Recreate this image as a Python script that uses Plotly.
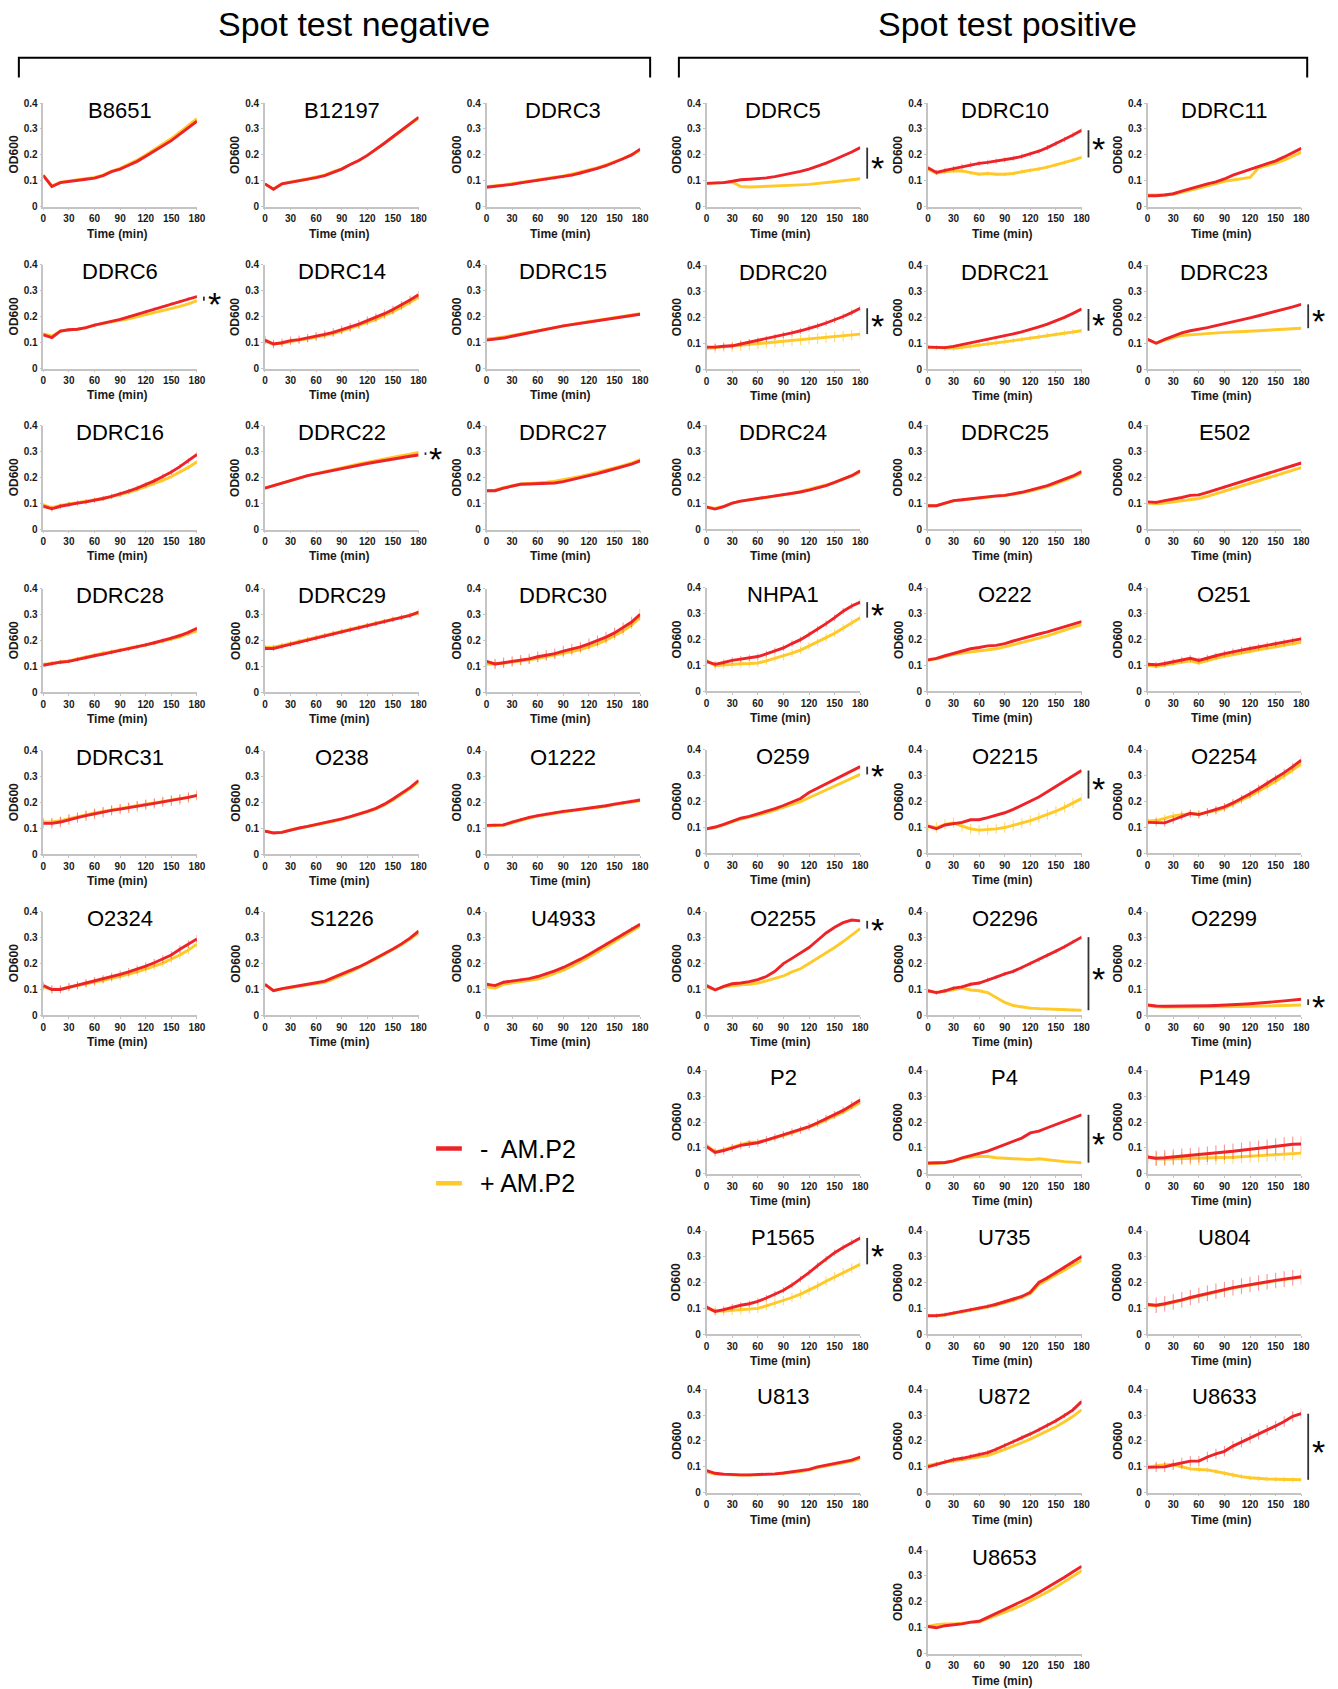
import plotly.graph_objects as go

TIME = [0, 10, 20, 30, 40, 50, 60, 70, 80, 90, 100, 110, 120, 130, 140, 150, 160, 170, 180]

# ---------------- Spot test negative ----------------
B8651_minus = [0.120,0.078,0.093,0.098,0.102,0.106,0.110,0.120,0.135,0.145,0.160,0.175,0.195,0.215,0.235,0.255,0.280,0.305,0.330]
B8651_plus = [0.122,0.080,0.095,0.100,0.105,0.110,0.113,0.122,0.137,0.148,0.163,0.180,0.200,0.220,0.241,0.263,0.288,0.313,0.340]
B12197_minus = [0.088,0.067,0.088,0.094,0.098,0.104,0.112,0.120,0.132,0.145,0.163,0.178,0.198,0.220,0.245,0.270,0.295,0.320,0.345]
B12197_plus = [0.088,0.068,0.089,0.095,0.100,0.107,0.115,0.122,0.135,0.146,0.163,0.178,0.198,0.220,0.245,0.269,0.293,0.318,0.342]
DDRC3_minus = [0.075,0.078,0.082,0.086,0.092,0.097,0.100,0.105,0.110,0.115,0.122,0.130,0.138,0.148,0.158,0.170,0.185,0.200,0.222]
DDRC3_plus = [0.077,0.080,0.084,0.089,0.094,0.099,0.103,0.108,0.113,0.119,0.126,0.134,0.142,0.151,0.161,0.172,0.186,0.200,0.218]
DDRC6_minus = [0.130,0.120,0.145,0.150,0.152,0.158,0.168,0.175,0.182,0.190,0.200,0.210,0.220,0.230,0.240,0.250,0.260,0.270,0.278]
DDRC6_plus = [0.135,0.125,0.145,0.150,0.152,0.158,0.168,0.175,0.180,0.186,0.192,0.200,0.206,0.214,0.222,0.230,0.240,0.250,0.262]
DDRC14_minus = [0.110,0.095,0.100,0.108,0.112,0.118,0.125,0.132,0.140,0.150,0.160,0.172,0.185,0.198,0.212,0.228,0.245,0.265,0.285]
DDRC14_plus = [0.105,0.095,0.098,0.105,0.110,0.115,0.122,0.128,0.135,0.145,0.155,0.165,0.178,0.190,0.204,0.220,0.237,0.255,0.275]
DDRC15_minus = [0.110,0.113,0.118,0.125,0.132,0.140,0.147,0.153,0.160,0.165,0.170,0.175,0.180,0.185,0.190,0.195,0.200,0.205,0.210]
DDRC15_plus = [0.115,0.117,0.122,0.128,0.135,0.142,0.149,0.155,0.160,0.166,0.171,0.176,0.181,0.186,0.191,0.196,0.201,0.206,0.212]
DDRC16_minus = [0.090,0.080,0.090,0.097,0.102,0.107,0.113,0.120,0.128,0.137,0.148,0.160,0.173,0.188,0.205,0.222,0.243,0.265,0.290]
DDRC16_plus = [0.095,0.085,0.093,0.098,0.103,0.108,0.114,0.120,0.127,0.135,0.144,0.154,0.165,0.177,0.190,0.205,0.222,0.240,0.262]
DDRC22_minus = [0.160,0.170,0.180,0.190,0.200,0.208,0.215,0.222,0.230,0.236,0.243,0.249,0.255,0.261,0.267,0.273,0.278,0.283,0.288]
DDRC22_plus = [0.160,0.170,0.180,0.190,0.200,0.208,0.216,0.224,0.232,0.239,0.246,0.253,0.260,0.266,0.272,0.279,0.285,0.291,0.298]
DDRC27_minus = [0.150,0.150,0.160,0.168,0.175,0.176,0.177,0.178,0.180,0.185,0.192,0.200,0.208,0.216,0.225,0.234,0.243,0.253,0.265]
DDRC27_plus = [0.150,0.152,0.162,0.170,0.176,0.178,0.180,0.183,0.187,0.192,0.198,0.205,0.213,0.221,0.229,0.238,0.247,0.257,0.270]
DDRC28_minus = [0.105,0.112,0.117,0.120,0.128,0.135,0.142,0.148,0.155,0.162,0.168,0.176,0.184,0.192,0.200,0.210,0.220,0.232,0.248]
DDRC28_plus = [0.108,0.113,0.118,0.122,0.130,0.138,0.145,0.152,0.158,0.164,0.170,0.177,0.184,0.191,0.198,0.206,0.215,0.226,0.238]
DDRC29_minus = [0.170,0.170,0.178,0.186,0.194,0.202,0.210,0.218,0.226,0.234,0.242,0.250,0.258,0.266,0.274,0.282,0.290,0.298,0.310]
DDRC29_plus = [0.175,0.175,0.182,0.190,0.197,0.205,0.212,0.220,0.228,0.236,0.244,0.251,0.259,0.267,0.275,0.283,0.290,0.298,0.306]
DDRC30_minus = [0.120,0.110,0.115,0.120,0.125,0.130,0.138,0.144,0.150,0.160,0.168,0.176,0.188,0.200,0.214,0.230,0.250,0.272,0.302]
DDRC30_plus = [0.110,0.110,0.113,0.117,0.121,0.126,0.132,0.138,0.144,0.150,0.158,0.166,0.176,0.188,0.202,0.218,0.237,0.260,0.290]
DDRC31_minus = [0.120,0.120,0.125,0.135,0.142,0.150,0.157,0.163,0.170,0.175,0.180,0.186,0.192,0.197,0.203,0.208,0.213,0.220,0.228]
DDRC31_plus = [0.125,0.125,0.130,0.138,0.146,0.153,0.160,0.166,0.172,0.178,0.183,0.189,0.194,0.199,0.204,0.209,0.214,0.220,0.226]
O238_minus = [0.090,0.083,0.085,0.095,0.102,0.108,0.115,0.122,0.129,0.137,0.146,0.155,0.166,0.178,0.194,0.214,0.235,0.258,0.285]
O238_plus = [0.090,0.084,0.086,0.095,0.101,0.107,0.114,0.121,0.128,0.135,0.144,0.153,0.164,0.176,0.191,0.210,0.231,0.254,0.280]
O1222_minus = [0.112,0.112,0.114,0.125,0.135,0.143,0.150,0.156,0.162,0.166,0.170,0.174,0.178,0.182,0.188,0.194,0.200,0.205,0.210]
O1222_plus = [0.110,0.110,0.112,0.122,0.132,0.140,0.148,0.154,0.160,0.164,0.168,0.172,0.176,0.181,0.186,0.192,0.197,0.202,0.207]
O2324_minus = [0.115,0.100,0.100,0.110,0.117,0.125,0.133,0.140,0.150,0.158,0.168,0.178,0.190,0.203,0.217,0.233,0.255,0.275,0.295]
O2324_plus = [0.110,0.100,0.102,0.108,0.114,0.121,0.128,0.135,0.143,0.150,0.159,0.168,0.178,0.190,0.202,0.216,0.233,0.252,0.275]
S1226_minus = [0.120,0.095,0.103,0.108,0.114,0.120,0.126,0.132,0.145,0.158,0.172,0.187,0.203,0.220,0.238,0.256,0.276,0.298,0.325]
S1226_plus = [0.120,0.095,0.102,0.106,0.112,0.118,0.123,0.128,0.140,0.153,0.168,0.184,0.200,0.218,0.236,0.254,0.273,0.295,0.318]
U4933_minus = [0.120,0.115,0.128,0.133,0.137,0.142,0.150,0.160,0.172,0.185,0.200,0.217,0.235,0.255,0.275,0.295,0.315,0.335,0.352]
U4933_plus = [0.110,0.105,0.120,0.125,0.128,0.133,0.140,0.150,0.162,0.175,0.190,0.207,0.225,0.245,0.265,0.285,0.305,0.326,0.345]

# ---------------- Spot test positive ----------------
DDRC5_minus = [0.090,0.091,0.093,0.098,0.104,0.106,0.108,0.111,0.116,0.122,0.129,0.136,0.145,0.156,0.168,0.182,0.196,0.211,0.228]
DDRC5_plus = [0.090,0.091,0.093,0.095,0.078,0.076,0.077,0.078,0.079,0.080,0.082,0.084,0.086,0.089,0.092,0.096,0.100,0.104,0.108]
DDRC10_minus = [0.150,0.132,0.140,0.147,0.155,0.162,0.167,0.171,0.176,0.181,0.187,0.194,0.203,0.214,0.228,0.243,0.260,0.277,0.295]
DDRC10_plus = [0.145,0.130,0.135,0.138,0.138,0.130,0.125,0.128,0.125,0.125,0.128,0.135,0.140,0.146,0.153,0.161,0.170,0.180,0.190]
DDRC11_minus = [0.042,0.042,0.045,0.050,0.060,0.070,0.080,0.088,0.096,0.107,0.122,0.133,0.145,0.155,0.165,0.177,0.192,0.208,0.225]
DDRC11_plus = [0.045,0.044,0.045,0.048,0.055,0.063,0.072,0.080,0.090,0.098,0.103,0.108,0.113,0.150,0.158,0.168,0.180,0.195,0.210]
DDRC20_minus = [0.085,0.085,0.088,0.090,0.097,0.104,0.110,0.117,0.124,0.132,0.140,0.148,0.157,0.167,0.178,0.190,0.203,0.218,0.235]
DDRC20_plus = [0.080,0.083,0.085,0.087,0.090,0.093,0.097,0.100,0.103,0.106,0.109,0.112,0.115,0.118,0.121,0.124,0.127,0.131,0.135]
DDRC21_minus = [0.085,0.083,0.083,0.088,0.095,0.101,0.107,0.113,0.120,0.128,0.136,0.144,0.153,0.163,0.174,0.186,0.200,0.215,0.232]
DDRC21_plus = [0.085,0.083,0.080,0.080,0.084,0.088,0.092,0.096,0.100,0.105,0.110,0.115,0.120,0.125,0.130,0.135,0.140,0.144,0.148]
DDRC23_minus = [0.115,0.100,0.115,0.128,0.140,0.148,0.153,0.160,0.168,0.175,0.183,0.190,0.198,0.206,0.214,0.222,0.230,0.240,0.250]
DDRC23_plus = [0.115,0.100,0.112,0.122,0.130,0.132,0.135,0.138,0.140,0.142,0.143,0.144,0.146,0.148,0.150,0.152,0.154,0.156,0.158]
DDRC24_minus = [0.085,0.077,0.087,0.100,0.108,0.113,0.118,0.124,0.128,0.133,0.137,0.143,0.150,0.158,0.168,0.180,0.192,0.206,0.225]
DDRC24_plus = [0.085,0.080,0.088,0.100,0.108,0.112,0.117,0.122,0.127,0.132,0.137,0.145,0.153,0.160,0.170,0.180,0.192,0.205,0.220]
DDRC25_minus = [0.090,0.090,0.100,0.110,0.113,0.117,0.120,0.124,0.128,0.130,0.135,0.142,0.150,0.158,0.168,0.180,0.192,0.205,0.222]
DDRC25_plus = [0.090,0.090,0.099,0.109,0.112,0.116,0.119,0.122,0.126,0.129,0.134,0.140,0.147,0.155,0.164,0.175,0.187,0.200,0.215]
E502_minus = [0.105,0.103,0.110,0.115,0.122,0.130,0.132,0.142,0.152,0.162,0.172,0.182,0.193,0.203,0.213,0.223,0.234,0.245,0.255]
E502_plus = [0.100,0.098,0.100,0.105,0.110,0.115,0.118,0.126,0.136,0.146,0.156,0.166,0.176,0.186,0.196,0.206,0.216,0.226,0.237]
NHPA1_minus = [0.115,0.105,0.112,0.120,0.125,0.130,0.135,0.145,0.158,0.168,0.185,0.200,0.220,0.240,0.262,0.285,0.310,0.330,0.345]
NHPA1_plus = [0.120,0.100,0.102,0.105,0.107,0.108,0.110,0.118,0.128,0.135,0.148,0.160,0.175,0.190,0.208,0.225,0.245,0.265,0.285]
O222_minus = [0.122,0.128,0.138,0.148,0.158,0.165,0.170,0.176,0.178,0.185,0.195,0.205,0.214,0.222,0.230,0.240,0.250,0.260,0.270]
O222_plus = [0.120,0.126,0.135,0.143,0.148,0.152,0.156,0.160,0.165,0.172,0.180,0.190,0.198,0.206,0.215,0.225,0.235,0.246,0.258]
O251_minus = [0.105,0.103,0.108,0.115,0.122,0.128,0.120,0.130,0.138,0.146,0.154,0.160,0.166,0.172,0.178,0.184,0.190,0.196,0.203]
O251_plus = [0.100,0.097,0.102,0.108,0.113,0.118,0.110,0.120,0.128,0.136,0.143,0.149,0.155,0.161,0.167,0.173,0.179,0.185,0.190]
O259_minus = [0.095,0.102,0.112,0.125,0.136,0.143,0.152,0.162,0.173,0.185,0.198,0.212,0.235,0.252,0.268,0.285,0.300,0.318,0.335]
O259_plus = [0.095,0.100,0.110,0.122,0.133,0.140,0.148,0.157,0.167,0.177,0.188,0.200,0.215,0.230,0.245,0.260,0.275,0.290,0.305]
O2215_minus = [0.105,0.095,0.110,0.115,0.120,0.130,0.130,0.138,0.147,0.157,0.170,0.185,0.200,0.218,0.238,0.258,0.280,0.300,0.320]
O2215_plus = [0.105,0.100,0.112,0.118,0.105,0.095,0.090,0.092,0.095,0.100,0.108,0.117,0.127,0.138,0.150,0.163,0.178,0.195,0.212]
O2254_minus = [0.120,0.120,0.118,0.130,0.143,0.155,0.150,0.160,0.168,0.180,0.195,0.212,0.230,0.250,0.270,0.290,0.312,0.335,0.360]
O2254_plus = [0.125,0.127,0.135,0.145,0.150,0.153,0.152,0.158,0.165,0.175,0.190,0.205,0.222,0.240,0.258,0.278,0.300,0.322,0.345]
O2255_minus = [0.115,0.098,0.112,0.122,0.125,0.130,0.138,0.150,0.170,0.200,0.220,0.240,0.262,0.290,0.318,0.340,0.358,0.368,0.365]
O2255_plus = [0.110,0.100,0.110,0.115,0.118,0.120,0.125,0.133,0.143,0.152,0.168,0.180,0.200,0.220,0.240,0.262,0.285,0.310,0.335]
O2296_minus = [0.095,0.088,0.095,0.105,0.110,0.120,0.125,0.138,0.148,0.160,0.170,0.185,0.200,0.215,0.232,0.248,0.265,0.285,0.302]
O2296_plus = [0.095,0.088,0.093,0.100,0.105,0.098,0.095,0.088,0.070,0.050,0.038,0.032,0.028,0.026,0.024,0.023,0.022,0.021,0.020]
O2299_minus = [0.040,0.036,0.035,0.035,0.035,0.036,0.036,0.037,0.038,0.039,0.041,0.043,0.045,0.047,0.050,0.053,0.056,0.059,0.062]
O2299_plus = [0.038,0.033,0.032,0.032,0.032,0.032,0.032,0.032,0.032,0.033,0.033,0.034,0.035,0.035,0.036,0.037,0.038,0.039,0.040]
P2_minus = [0.105,0.083,0.090,0.100,0.110,0.115,0.120,0.130,0.140,0.150,0.160,0.170,0.182,0.197,0.212,0.228,0.245,0.265,0.285]
P2_plus = [0.110,0.085,0.093,0.103,0.115,0.122,0.122,0.130,0.140,0.148,0.158,0.168,0.180,0.193,0.207,0.222,0.238,0.256,0.275]
P4_minus = [0.042,0.042,0.044,0.050,0.062,0.070,0.078,0.088,0.100,0.113,0.125,0.138,0.158,0.165,0.178,0.190,0.203,0.216,0.228]
P4_plus = [0.040,0.040,0.043,0.050,0.060,0.065,0.067,0.067,0.062,0.060,0.058,0.057,0.055,0.058,0.054,0.050,0.047,0.045,0.043]
P149_minus = [0.065,0.060,0.062,0.065,0.068,0.070,0.073,0.076,0.080,0.083,0.087,0.091,0.095,0.099,0.103,0.107,0.111,0.114,0.115]
P149_plus = [0.065,0.058,0.057,0.058,0.058,0.058,0.058,0.059,0.060,0.062,0.064,0.066,0.068,0.070,0.072,0.074,0.076,0.078,0.080]
P1565_minus = [0.105,0.088,0.095,0.105,0.112,0.118,0.127,0.140,0.155,0.170,0.190,0.213,0.238,0.265,0.290,0.315,0.335,0.355,0.372]
P1565_plus = [0.100,0.090,0.090,0.092,0.094,0.097,0.100,0.110,0.120,0.130,0.142,0.155,0.170,0.187,0.205,0.222,0.238,0.255,0.270]
U735_minus = [0.072,0.072,0.076,0.082,0.088,0.094,0.100,0.108,0.116,0.125,0.135,0.146,0.162,0.200,0.218,0.238,0.258,0.279,0.300]
U735_plus = [0.070,0.070,0.074,0.080,0.086,0.092,0.098,0.105,0.113,0.121,0.131,0.142,0.157,0.192,0.210,0.228,0.247,0.266,0.285]
U804_minus = [0.115,0.112,0.118,0.125,0.133,0.142,0.150,0.158,0.166,0.173,0.180,0.186,0.192,0.198,0.203,0.208,0.213,0.218,0.222]
U804_plus = [0.113,0.110,0.116,0.123,0.131,0.140,0.148,0.156,0.164,0.171,0.178,0.184,0.190,0.196,0.201,0.206,0.211,0.216,0.220]
U813_minus = [0.085,0.075,0.072,0.070,0.069,0.069,0.070,0.071,0.073,0.076,0.080,0.084,0.090,0.100,0.106,0.112,0.119,0.126,0.138]
U813_plus = [0.080,0.072,0.070,0.068,0.068,0.068,0.069,0.070,0.072,0.075,0.078,0.082,0.088,0.097,0.103,0.109,0.115,0.122,0.132]
U872_minus = [0.100,0.110,0.120,0.128,0.133,0.140,0.148,0.155,0.168,0.182,0.197,0.212,0.227,0.243,0.260,0.278,0.298,0.320,0.352]
U872_plus = [0.105,0.112,0.118,0.122,0.127,0.133,0.138,0.143,0.155,0.167,0.180,0.193,0.207,0.222,0.238,0.255,0.274,0.295,0.320]
U8633_minus = [0.098,0.100,0.100,0.108,0.115,0.122,0.122,0.138,0.150,0.160,0.180,0.195,0.210,0.225,0.242,0.258,0.275,0.295,0.305]
U8633_plus = [0.100,0.105,0.108,0.108,0.100,0.092,0.090,0.088,0.082,0.075,0.068,0.062,0.058,0.055,0.053,0.052,0.051,0.050,0.050]
U8653_minus = [0.105,0.100,0.108,0.112,0.115,0.122,0.125,0.140,0.155,0.170,0.185,0.200,0.218,0.236,0.255,0.275,0.295,0.316,0.337]
U8653_plus = [0.105,0.112,0.115,0.115,0.118,0.120,0.122,0.135,0.147,0.160,0.173,0.187,0.203,0.220,0.238,0.257,0.277,0.298,0.320]

# estimated error-bar half widths (default small)
SD_MINUS = {"DDRC3": 0.006, "DDRC6": 0.006, "DDRC14": 0.016, "DDRC16": 0.010, "DDRC28": 0.008,
            "DDRC29": 0.010, "DDRC30": 0.020, "DDRC31": 0.020, "O1222": 0.006, "O2324": 0.015,
            "U4933": 0.006, "DDRC10": 0.010, "DDRC20": 0.012, "DDRC21": 0.005, "E502": 0.006,
            "NHPA1": 0.012, "O251": 0.012, "O2254": 0.015, "O2296": 0.008, "P2": 0.015,
            "P149": 0.030, "P1565": 0.012, "U735": 0.008, "U804": 0.030, "U872": 0.010, "U8633": 0.020}
SD_PLUS = {"DDRC14": 0.012, "DDRC16": 0.008, "DDRC28": 0.008, "DDRC29": 0.010, "DDRC30": 0.015,
           "DDRC31": 0.015, "O2324": 0.015, "DDRC10": 0.008, "DDRC20": 0.020, "DDRC21": 0.010,
           "NHPA1": 0.015, "O251": 0.008, "O2215": 0.020, "O2254": 0.015, "O2296": 0.006,
           "P149": 0.025, "P1565": 0.018, "U8633": 0.010}
SD_DEFAULT = 0.003

SIGNIFICANT = ["DDRC6", "DDRC22", "DDRC5", "DDRC10", "DDRC20", "DDRC21", "DDRC23", "NHPA1",
               "O259", "O2215", "O2255", "O2296", "O2299", "P4", "P1565", "U8633"]

LEFT_GRID = [["B8651", "B12197", "DDRC3"],
             ["DDRC6", "DDRC14", "DDRC15"],
             ["DDRC16", "DDRC22", "DDRC27"],
             ["DDRC28", "DDRC29", "DDRC30"],
             ["DDRC31", "O238", "O1222"],
             ["O2324", "S1226", "U4933"]]
RIGHT_GRID = [["DDRC5", "DDRC10", "DDRC11"],
              ["DDRC20", "DDRC21", "DDRC23"],
              ["DDRC24", "DDRC25", "E502"],
              ["NHPA1", "O222", "O251"],
              ["O259", "O2215", "O2254"],
              ["O2255", "O2296", "O2299"],
              ["P2", "P4", "P149"],
              ["P1565", "U735", "U804"],
              ["U813", "U872", "U8633"],
              [None, "U8653", None]]

X_TICKS = [0, 30, 60, 90, 120, 150, 180]
Y_TICKS = [0, 0.1, 0.2, 0.3, 0.4]
Y_TICKTEXT = ["0", "0.1", "0.2", "0.3", "0.4"]

# ---------------- geometry (pixels) ----------------
W, H = 1338, 1689
PW, PH = 155.0, 104.3
LEFT_X = [40.7, 264.3, 487.9]
RIGHT_X = [710.0, 933.3, 1155.0]
LEFT_Y0 = [203.0, 366.0, 528.0, 692.0, 855.0, 1017.0]
RIGHT_Y0 = [203.0, 366.5, 527.5, 691.0, 854.0, 1017.0, 1176.5, 1338.0, 1497.5, 1659.5]

RED = "#ED2328"
YELLOW = "#FFC928"
RED_ERR = "rgba(240,70,70,0.55)"
YEL_ERR = "rgba(255,200,40,0.65)"
AXIS_GRAY = "#c4c4c4"
FONT = "Liberation Sans, Arial, sans-serif"


def px(x):
    return x / W


def py(y):
    return 1 - y / H


panels = []
for r, row in enumerate(LEFT_GRID):
    for c, name in enumerate(row):
        if name:
            panels.append((name, LEFT_X[c], LEFT_Y0[r]))
for r, row in enumerate(RIGHT_GRID):
    for c, name in enumerate(row):
        if name:
            panels.append((name, RIGHT_X[c], RIGHT_Y0[r]))

fig = go.Figure()
annotations = []
shapes = []
layout_axes = {}
tick_font = dict(family=FONT, size=10, color="#1a1a1a", weight="bold")

for k, (name, x0, y0) in enumerate(panels, start=1):
    minus = globals()[f"{name}_minus"]
    plus = globals()[f"{name}_plus"]
    sm = SD_MINUS.get(name, SD_DEFAULT)
    sp = SD_PLUS.get(name, SD_DEFAULT)
    xa = "x" if k == 1 else f"x{k}"
    ya = "y" if k == 1 else f"y{k}"
    fig.add_trace(go.Scatter(
        x=TIME, y=plus, mode="lines", xaxis=xa, yaxis=ya,
        line=dict(color=YELLOW, width=2.9), name="+ AM.P2", showlegend=False,
        error_y=dict(type="data", array=[sp] * len(TIME), width=0, thickness=1.1, color=YEL_ERR)))
    fig.add_trace(go.Scatter(
        x=TIME, y=minus, mode="lines", xaxis=xa, yaxis=ya,
        line=dict(color=RED, width=2.9), name="- AM.P2", showlegend=False,
        error_y=dict(type="data", array=[sm] * len(TIME), width=0, thickness=1.1, color=RED_ERR)))

    xkey = "xaxis" if k == 1 else f"xaxis{k}"
    ykey = "yaxis" if k == 1 else f"yaxis{k}"
    layout_axes[xkey] = dict(
        domain=[px(x0), px(x0 + PW)], anchor=ya, range=[0, 180], tickvals=X_TICKS,
        showline=True, linecolor=AXIS_GRAY, linewidth=1.5, showgrid=False, zeroline=False,
        ticks="outside", ticklen=2, tickcolor=AXIS_GRAY, tickwidth=1,
        tickfont=tick_font, fixedrange=True)
    layout_axes[ykey] = dict(
        domain=[py(y0), py(y0 - PH)], anchor=xa, range=[0, 0.4], tickvals=Y_TICKS,
        ticktext=Y_TICKTEXT, showline=True, linecolor=AXIS_GRAY, linewidth=1.5,
        showgrid=False, zeroline=False, ticks="outside", ticklen=2, tickcolor=AXIS_GRAY,
        tickwidth=1, tickfont=tick_font, fixedrange=True)

    cx = x0 + PW / 2
    annotations.append(dict(text=name, x=px(cx), y=py(y0 - PH + 7), xref="paper", yref="paper",
                            xanchor="center", yanchor="middle", showarrow=False,
                            font=dict(family=FONT, size=22, color="black")))
    annotations.append(dict(text="Time (min)", x=px(cx - 3), y=py(y0 + 27), xref="paper",
                            yref="paper", xanchor="center", yanchor="middle", showarrow=False,
                            font=dict(family=FONT, size=12, color="#1a1a1a", weight="bold")))
    annotations.append(dict(text="OD600", x=px(x0 - 30), y=py(y0 - PH / 2), xref="paper",
                            yref="paper", xanchor="center", yanchor="middle", showarrow=False,
                            textangle=-90,
                            font=dict(family=FONT, size=12, color="#1a1a1a", weight="bold")))

    if name in SIGNIFICANT:
        ya_px = y0 - minus[-1] / 0.4 * PH
        yb_px = y0 - plus[-1] / 0.4 * PH
        bx = x0 + PW + 7
        shapes.append(dict(type="line", xref="paper", yref="paper", x0=px(bx), x1=px(bx),
                           y0=py(ya_px), y1=py(yb_px), line=dict(color="#333", width=1.8)))
        annotations.append(dict(text="*", x=px(bx + 2), y=py((ya_px + yb_px) / 2 + 5),
                                xref="paper", yref="paper", xanchor="left", yanchor="middle",
                                showarrow=False,
                                font=dict(family=FONT, size=34, color="black")))

# headers and brackets
annotations.append(dict(text="Spot test negative", x=px(354), y=py(19), xref="paper", yref="paper",
                        xanchor="center", yanchor="middle", showarrow=False,
                        font=dict(family=FONT, size=34, color="black")))
annotations.append(dict(text="Spot test positive", x=px(1014), y=py(19), xref="paper", yref="paper",
                        xanchor="center", yanchor="middle", showarrow=False,
                        font=dict(family=FONT, size=34, color="black")))
for (bx0, bx1) in [(16, 653), (682, 1316)]:
    shapes.append(dict(type="path", xref="paper", yref="paper",
                       path=f"M {px(bx0)},{py(73)} L {px(bx0)},{py(53)} L {px(bx1)},{py(53)} L {px(bx1)},{py(73)}",
                       line=dict(color="black", width=2)))

# legend
for (ly, col, label) in [(1151, RED, "-  AM.P2"), (1186, YELLOW, "+ AM.P2")]:
    shapes.append(dict(type="line", xref="paper", yref="paper", x0=px(437), x1=px(463),
                       y0=py(ly), y1=py(ly), line=dict(color=col, width=4.5)))
    annotations.append(dict(text=label, x=px(479), y=py(ly), xref="paper", yref="paper",
                            xanchor="left", yanchor="middle", showarrow=False,
                            font=dict(family=FONT, size=25, color="black")))

fig.update_layout(
    width=W, height=H, margin=dict(l=0, r=0, t=0, b=0, pad=0),
    paper_bgcolor="white", plot_bgcolor="white", showlegend=False,
    annotations=annotations, shapes=shapes, **layout_axes)

fig.write_html("out.html", config={"displayModeBar": False},
               post_script="document.body.style.margin='0';")
